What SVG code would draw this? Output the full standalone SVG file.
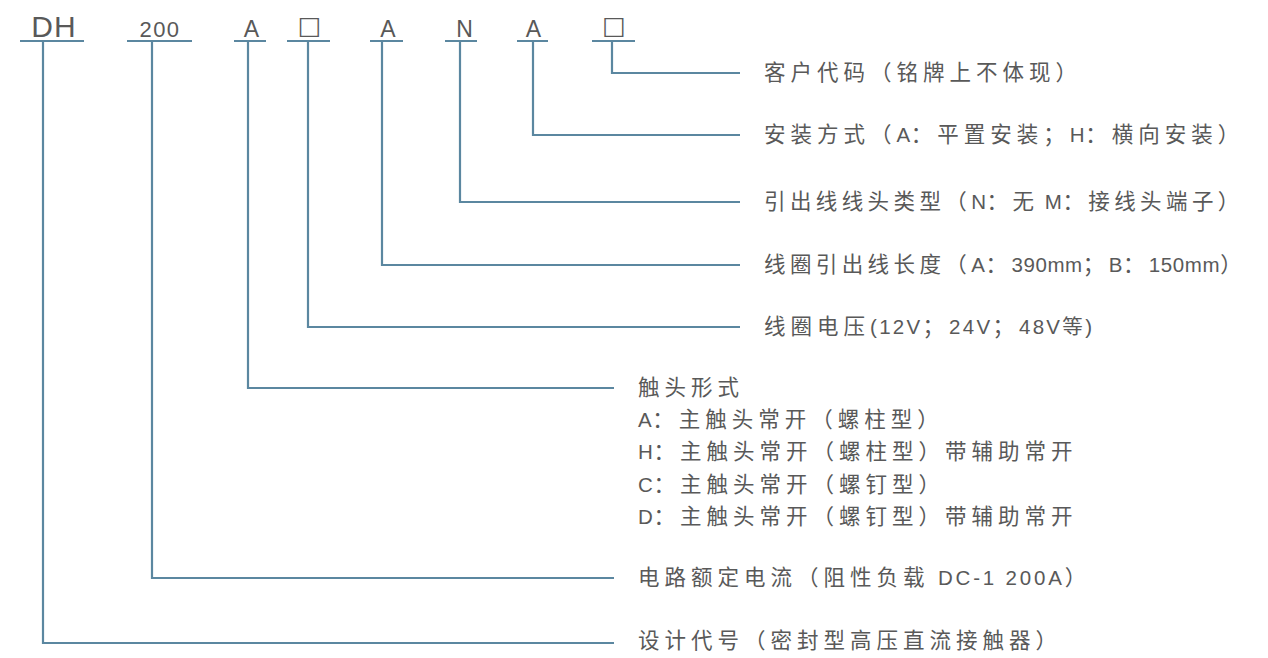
<svg xmlns="http://www.w3.org/2000/svg" width="1268" height="658" viewBox="0 0 1268 658">
<style>
.ln{fill:none;stroke:#5b87a0;stroke-width:2.2}
.t{font-family:"Liberation Sans","Noto Sans CJK SC",sans-serif;font-size:20px;fill:#595959}
.c{font-size:21.5px;letter-spacing:5px}
.c2{font-size:21.5px;letter-spacing:4.4px}
.l{font-size:20.5px;letter-spacing:0.6px}
.l2{font-size:20.5px;letter-spacing:2.3px}
.l3{font-size:20.5px;letter-spacing:2.8px}
.h{font-family:"Liberation Sans","Noto Sans CJK SC",sans-serif;fill:#595959;text-anchor:middle}
.sq{font-family:"DejaVu Sans",sans-serif;fill:#595959;text-anchor:middle;font-size:25px}
</style>
<rect width="1268" height="658" fill="#ffffff"/>
<g id="code">
<text class="h" x="54" y="37" font-size="30" letter-spacing="1">DH</text>
<text class="h" x="160" y="37" font-size="22" letter-spacing="1.5">200</text>
<text class="h" x="251.5" y="37" font-size="23">A</text>
<text class="sq" x="309.5" y="33.5">□</text>
<text class="h" x="388" y="37" font-size="23">A</text>
<text class="h" x="464.5" y="37" font-size="23">N</text>
<text class="h" x="533.5" y="37" font-size="23">A</text>
<text class="sq" x="614" y="33.5">□</text>
</g>
<g id="connectors">
<path class="ln" d="M20 41H84M127 41H192M234 41H266M287 41H330M370 41H403M445 41H477M517 41H548M592 41H635"/>
<path class="ln" d="M612 41V73H740"/>
<path class="ln" d="M533 41V135H740"/>
<path class="ln" d="M460 41V202H740"/>
<path class="ln" d="M382 41V265H740"/>
<path class="ln" d="M308 41V327H740"/>
<path class="ln" d="M248 41V388H614"/>
<path class="ln" d="M152 41V578H614"/>
<path class="ln" d="M43 41V643H614"/>
</g>
<g id="n1"><text class="t" x="764" y="80"><tspan class="c">客户代码（铭牌上不体现）</tspan></text></g>
<g id="n2"><text class="t" x="764" y="142"><tspan class="c">安装方式（</tspan><tspan class="l">A</tspan><tspan class="c">：平置安装；</tspan><tspan class="l">H</tspan><tspan class="c">：横向安装）</tspan></text></g>
<g id="n3"><text class="t" x="764" y="209"><tspan class="c2">引出线线头类型（</tspan><tspan class="l">N</tspan><tspan class="c2">：无</tspan><tspan class="l"> M</tspan><tspan class="c2">：接线头端子）</tspan></text></g>
<g id="n4"><text class="t" x="764" y="272"><tspan class="c2">线圈引出线长度（</tspan><tspan class="l">A</tspan><tspan class="c2">：</tspan><tspan class="l">390mm</tspan><tspan class="c2">；</tspan><tspan class="l">B</tspan><tspan class="c2">：</tspan><tspan class="l">150mm</tspan><tspan class="c2">）</tspan></text></g>
<g id="n5"><text class="t" x="764" y="334"><tspan class="c">线圈电压</tspan><tspan class="l2">(12V</tspan><tspan class="c">；</tspan><tspan class="l2">24V</tspan><tspan class="c">；</tspan><tspan class="l2">48V</tspan><tspan class="l2">等)</tspan></text></g>
<g id="n6">
<text class="t" x="638" y="395"><tspan class="c">触头形式</tspan></text>
<text class="t" x="638" y="427"><tspan class="l">A</tspan><tspan class="c">：主触头常开（螺柱型）</tspan></text>
<text class="t" x="638" y="459"><tspan class="l">H</tspan><tspan class="c">：主触头常开（螺柱型）带辅助常开</tspan></text>
<text class="t" x="638" y="492"><tspan class="l">C</tspan><tspan class="c">：主触头常开（螺钉型）</tspan></text>
<text class="t" x="638" y="524"><tspan class="l">D</tspan><tspan class="c">：主触头常开（螺钉型）带辅助常开</tspan></text>
</g>
<g id="n7"><text class="t" x="638" y="585"><tspan class="c">电路额定电流（阻性负载</tspan><tspan class="l3"> DC-1 200A</tspan><tspan class="c">）</tspan></text></g>
<g id="n8"><text class="t" x="638" y="648"><tspan class="c">设计代号（密封型高压直流接触器）</tspan></text></g>
</svg>
